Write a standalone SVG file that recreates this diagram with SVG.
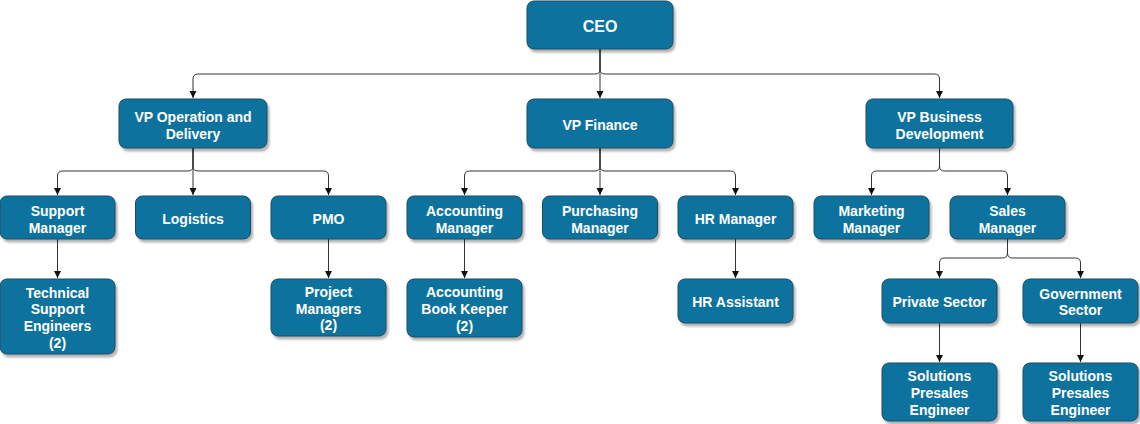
<svg xmlns="http://www.w3.org/2000/svg" width="1140" height="424" viewBox="0 0 1140 424">
<defs>
<filter id="sh" x="-10%" y="-10%" width="130%" height="140%">
<feDropShadow dx="2" dy="3" stdDeviation="1" flood-color="#000" flood-opacity="0.3"/>
</filter>
<marker id="arr" markerWidth="8" markerHeight="8" refX="7" refY="4" orient="auto" markerUnits="userSpaceOnUse">
<path d="M0,0.5 L7,4 L0,7.5 Z" fill="#111"/>
</marker>
<style>
.box{fill:#10739E;stroke:#1d4a60;stroke-width:1;filter:url(#sh)}
.t{fill:#fff;font-family:"Liberation Sans",Arial,sans-serif;font-weight:bold;font-size:14px;text-anchor:middle}
.big{font-size:16px}
.e{fill:none;stroke:#333;stroke-width:1;marker-end:url(#arr)}
</style>
</defs>
<g id="connectors">
<path class="e" d="M600 49 L600 69 Q600 74 595 74 L198 74 Q193 74 193 79 L193 98"/>
<path class="e" d="M600 49 L600 98"/>
<path class="e" d="M600 49 L600 69 Q600 74 605 74 L934.5 74 Q939.5 74 939.5 79 L939.5 98"/>
<path class="e" d="M193 148 L193 166 Q193 171 188 171 L62.5 171 Q57.5 171 57.5 176 L57.5 195"/>
<path class="e" d="M193 148 L193 195"/>
<path class="e" d="M193 148 L193 166 Q193 171 198 171 L323.5 171 Q328.5 171 328.5 176 L328.5 195"/>
<path class="e" d="M600 148 L600 166 Q600 171 595 171 L469.5 171 Q464.5 171 464.5 176 L464.5 195"/>
<path class="e" d="M600 148 L600 195"/>
<path class="e" d="M600 148 L600 166 Q600 171 605 171 L730.5 171 Q735.5 171 735.5 176 L735.5 195"/>
<path class="e" d="M939.5 148 L939.5 166 Q939.5 171 934.5 171 L876.5 171 Q871.5 171 871.5 176 L871.5 195"/>
<path class="e" d="M939.5 148 L939.5 166 Q939.5 171 944.5 171 L1002.5 171 Q1007.5 171 1007.5 176 L1007.5 195"/>
<path class="e" d="M57.5 239 L57.5 278"/>
<path class="e" d="M328.5 239 L328.5 278"/>
<path class="e" d="M464.5 239 L464.5 278"/>
<path class="e" d="M735.5 239 L735.5 278"/>
<path class="e" d="M1007.5 239 L1007.5 253 Q1007.5 258 1002.5 258 L944.5 258 Q939.5 258 939.5 263 L939.5 278"/>
<path class="e" d="M1007.5 239 L1007.5 253 Q1007.5 258 1012.5 258 L1075.5 258 Q1080.5 258 1080.5 263 L1080.5 278"/>
<path class="e" d="M939.5 323 L939.5 362"/>
<path class="e" d="M1080.5 323 L1080.5 362"/>
</g>
<g id="ceo"><rect class="box" x="527" y="1" width="146" height="48" rx="7"/><text class="t big" x="600" y="32">CEO</text></g>
<g id="vp-operation"><rect class="box" x="119" y="99" width="148" height="49" rx="7"/><text class="t" x="193" y="122">VP Operation and</text><text class="t" x="193" y="139">Delivery</text></g>
<g id="vp-finance"><rect class="box" x="527" y="99" width="146" height="49" rx="7"/><text class="t" x="600" y="129.5">VP Finance</text></g>
<g id="vp-business"><rect class="box" x="866" y="99" width="147" height="49" rx="7"/><text class="t" x="939.5" y="122">VP Business</text><text class="t" x="939.5" y="139">Development</text></g>
<g id="support-manager"><rect class="box" x="0" y="196" width="115" height="43" rx="7"/><text class="t" x="57.5" y="215.5">Support</text><text class="t" x="57.5" y="232.5">Manager</text></g>
<g id="logistics"><rect class="box" x="135.5" y="196" width="115" height="43" rx="7"/><text class="t" x="193" y="224">Logistics</text></g>
<g id="pmo"><rect class="box" x="271" y="196" width="115" height="43" rx="7"/><text class="t" x="328.5" y="224">PMO</text></g>
<g id="accounting-manager"><rect class="box" x="407" y="196" width="115" height="43" rx="7"/><text class="t" x="464.5" y="215.5">Accounting</text><text class="t" x="464.5" y="232.5">Manager</text></g>
<g id="purchasing-manager"><rect class="box" x="542.5" y="196" width="115" height="43" rx="7"/><text class="t" x="600" y="215.5">Purchasing</text><text class="t" x="600" y="232.5">Manager</text></g>
<g id="hr-manager"><rect class="box" x="678" y="196" width="115" height="43" rx="7"/><text class="t" x="735.5" y="224">HR Manager</text></g>
<g id="marketing-manager"><rect class="box" x="814" y="196" width="115" height="43" rx="7"/><text class="t" x="871.5" y="215.5">Marketing</text><text class="t" x="871.5" y="232.5">Manager</text></g>
<g id="sales-manager"><rect class="box" x="950" y="196" width="115" height="43" rx="7"/><text class="t" x="1007.5" y="215.5">Sales</text><text class="t" x="1007.5" y="232.5">Manager</text></g>
<g id="technical-support"><rect class="box" x="0" y="279" width="115" height="75" rx="7"/><text class="t" x="57.5" y="297.7">Technical</text><text class="t" x="57.5" y="314.4">Support</text><text class="t" x="57.5" y="331.1">Engineers</text><text class="t" x="57.5" y="347.8">(2)</text></g>
<g id="project-managers"><rect class="box" x="271" y="279" width="115" height="57" rx="7"/><text class="t" x="328.5" y="296.8">Project</text><text class="t" x="328.5" y="313.5">Managers</text><text class="t" x="328.5" y="330.2">(2)</text></g>
<g id="book-keeper"><rect class="box" x="407" y="279" width="115" height="58" rx="7"/><text class="t" x="464.5" y="297.3">Accounting</text><text class="t" x="464.5" y="314">Book Keeper</text><text class="t" x="464.5" y="330.7">(2)</text></g>
<g id="hr-assistant"><rect class="box" x="678" y="279" width="115" height="44" rx="7"/><text class="t" x="735.5" y="307">HR Assistant</text></g>
<g id="private-sector"><rect class="box" x="882" y="279" width="115" height="44" rx="7"/><text class="t" x="939.5" y="307">Private Sector</text></g>
<g id="government-sector"><rect class="box" x="1023" y="279" width="115" height="44" rx="7"/><text class="t" x="1080.5" y="298.7">Government</text><text class="t" x="1080.5" y="315.4">Sector</text></g>
<g id="presales-private"><rect class="box" x="882" y="363" width="115" height="58" rx="7"/><text class="t" x="939.5" y="381.3">Solutions</text><text class="t" x="939.5" y="398">Presales</text><text class="t" x="939.5" y="414.7">Engineer</text></g>
<g id="presales-government"><rect class="box" x="1023" y="363" width="115" height="58" rx="7"/><text class="t" x="1080.5" y="381.3">Solutions</text><text class="t" x="1080.5" y="398">Presales</text><text class="t" x="1080.5" y="414.7">Engineer</text></g>
</svg>
